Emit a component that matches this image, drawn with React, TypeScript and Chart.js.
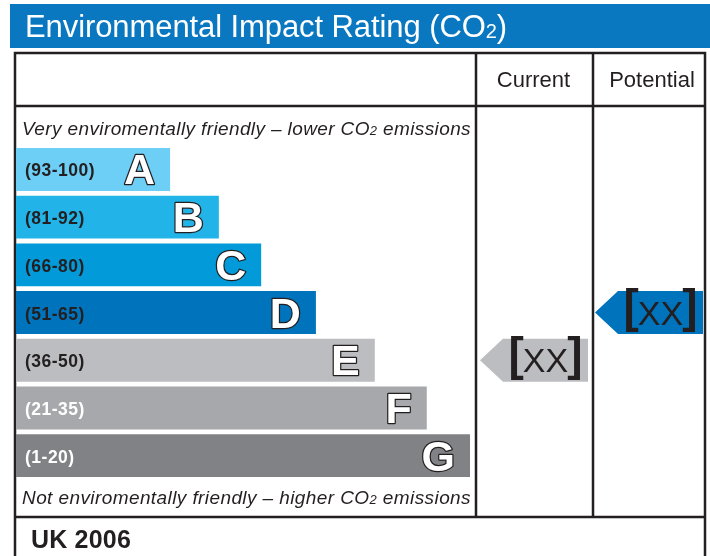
import React, { useEffect, useRef } from "react";
import { Chart, registerables } from "chart.js";

Chart.register(...registerables);

// ---- data ----
const bands = ["A", "B", "C", "D", "E", "F", "G"];
const ranges = ["(93-100)", "(81-92)", "(66-80)", "(51-65)", "(36-50)", "(21-35)", "(1-20)"];
const barLengths = [33.5, 44.1, 53.3, 65.2, 78.0, 89.3, 98.7];
const bandColors = ["#6dcff6", "#22b4e9", "#029ad8", "#0073bd", "#bbbdc0", "#a6a8ab", "#808285"];
const rangeTextColors = ["#231f20", "#231f20", "#231f20", "#231f20", "#231f20", "#ffffff", "#ffffff"];
const currentBand = "E";
const potentialBand = "D";
const currentLabel = "XX";
const potentialLabel = "XX";
const titleMain = "Environmental Impact Rating (CO";
const titleSub = "2";
const titleEnd = ")";
const headerCurrent = "Current";
const headerPotential = "Potential";
const topNote = ["Very enviromentally friendly \u2013 lower CO", "2", " emissions"];
const bottomNote = ["Not enviromentally friendly \u2013 higher CO", "2", " emissions"];
const footer = "UK 2006";

const FONT = '"Liberation Sans", Arial, Helvetica, sans-serif';
const DARK = "#231f20";

type Run = { text: string; font: string; dy?: number };

function measureRuns(ctx: CanvasRenderingContext2D, runs: Run[]) {
  let w = 0;
  let n = 0;
  for (const r of runs) {
    ctx.font = r.font;
    (ctx as any).letterSpacing = "0px";
    w += ctx.measureText(r.text).width;
    n += r.text.length;
  }
  return { w, n };
}

function drawRuns(
  ctx: CanvasRenderingContext2D,
  runs: Run[],
  x: number,
  y: number,
  color: string,
  target?: number
) {
  let spacing = 0;
  if (target) {
    const m = measureRuns(ctx, runs);
    spacing = (target - m.w) / m.n;
  }
  let cx = x;
  ctx.fillStyle = color;
  ctx.textAlign = "left";
  ctx.textBaseline = "alphabetic";
  for (const r of runs) {
    ctx.font = r.font;
    (ctx as any).letterSpacing = spacing + "px";
    ctx.fillText(r.text, cx, y + (r.dy || 0));
    cx += ctx.measureText(r.text).width;
  }
  (ctx as any).letterSpacing = "0px";
}

// layout constants
const TABLE_L = 15;
const TABLE_R = 705;
const TABLE_T = 53;
const HEADER_B = 106;
const BODY_B = 517;
const COL1 = 476;
const COL2 = 593;

function drawArrow(
  ctx: CanvasRenderingContext2D,
  tipX: number,
  rightX: number,
  cy: number,
  h: number,
  color: string,
  label: string
) {
  const head = 23;
  ctx.fillStyle = color;
  ctx.beginPath();
  ctx.moveTo(tipX, cy);
  ctx.lineTo(tipX + head, cy - h / 2);
  ctx.lineTo(rightX, cy - h / 2);
  ctx.lineTo(rightX, cy + h / 2);
  ctx.lineTo(tipX + head, cy + h / 2);
  ctx.closePath();
  ctx.fill();

  const bFont = `bold 46px ${FONT}`;
  const tFont = `34px ${FONT}`;
  ctx.font = bFont;
  const lw = ctx.measureText("[").width;
  const rw = ctx.measureText("]").width;
  ctx.font = tFont;
  const tw = ctx.measureText(label).width;
  const gap = -1;
  const total = lw + tw + rw + gap * 2;
  const center = (tipX + head + rightX) / 2;
  let x = center - total / 2;
  ctx.fillStyle = DARK;
  ctx.textAlign = "left";
  ctx.textBaseline = "alphabetic";
  ctx.font = bFont;
  ctx.fillText("[", x, cy + 9.5);
  x += lw + gap;
  ctx.font = tFont;
  ctx.fillText(label, x, cy + 12);
  x += tw + gap;
  ctx.font = bFont;
  ctx.fillText("]", x, cy + 9.5);
}

const epcPlugin = {
  id: "epc",
  beforeDatasetsDraw(chart: any) {
    const ctx: CanvasRenderingContext2D = chart.ctx;
    ctx.save();
    ctx.fillStyle = "#ffffff";
    ctx.fillRect(0, 0, chart.width, chart.height);
    // title bar
    ctx.fillStyle = "#0a78c1";
    ctx.fillRect(10, 4, 700, 44);
    drawRuns(
      ctx,
      [
        { text: titleMain, font: `31px ${FONT}` },
        { text: titleSub, font: `20px ${FONT}`, dy: 1 },
        { text: titleEnd, font: `31px ${FONT}` },
      ],
      25,
      37,
      "#ffffff",
      482
    );
    // table
    ctx.strokeStyle = DARK;
    ctx.lineWidth = 2.5;
    ctx.beginPath();
    ctx.moveTo(TABLE_L, chart.height + 5);
    ctx.lineTo(TABLE_L, TABLE_T);
    ctx.lineTo(TABLE_R, TABLE_T);
    ctx.lineTo(TABLE_R, chart.height + 5);
    ctx.moveTo(TABLE_L, HEADER_B);
    ctx.lineTo(TABLE_R, HEADER_B);
    ctx.moveTo(TABLE_L, BODY_B);
    ctx.lineTo(TABLE_R, BODY_B);
    ctx.moveTo(COL1, TABLE_T);
    ctx.lineTo(COL1, BODY_B);
    ctx.moveTo(COL2, TABLE_T);
    ctx.lineTo(COL2, BODY_B);
    ctx.stroke();
    // headers
    ctx.fillStyle = DARK;
    ctx.font = `22px ${FONT}`;
    ctx.textAlign = "center";
    ctx.textBaseline = "alphabetic";
    ctx.fillText(headerCurrent, (COL1 + COL2) / 2 - 1, 87);
    ctx.fillText(headerPotential, (COL2 + TABLE_R) / 2 + 3, 87);
    // notes
    const it = `italic 19px ${FONT}`;
    const itSub = `italic 13px ${FONT}`;
    drawRuns(
      ctx,
      [
        { text: topNote[0], font: it },
        { text: topNote[1], font: itSub, dy: 0 },
        { text: topNote[2], font: it },
      ],
      22,
      135,
      DARK,
      449
    );
    drawRuns(
      ctx,
      [
        { text: bottomNote[0], font: it },
        { text: bottomNote[1], font: itSub, dy: 0 },
        { text: bottomNote[2], font: it },
      ],
      22,
      504,
      DARK,
      449
    );
    drawRuns(ctx, [{ text: footer, font: `bold 25px ${FONT}` }], 31, 548, DARK, 100);
    ctx.restore();
  },
  afterDatasetsDraw(chart: any) {
    const ctx: CanvasRenderingContext2D = chart.ctx;
    const meta = chart.getDatasetMeta(0);
    ctx.save();
    meta.data.forEach((bar: any, i: number) => {
      const cy = bar.y;
      // range text
      ctx.fillStyle = rangeTextColors[i];
      ctx.font = `bold 17.5px ${FONT}`;
      (ctx as any).letterSpacing = "0.5px";
      ctx.textAlign = "left";
      ctx.textBaseline = "alphabetic";
      ctx.fillText(ranges[i], 25, cy + 7);
      (ctx as any).letterSpacing = "0px";
      // letter
      ctx.font = `bold 43px ${FONT}`;
      ctx.textAlign = "right";
      ctx.lineJoin = "round";
      ctx.lineWidth = 2.5;
      ctx.strokeStyle = DARK;
      const lx = bar.x - 15;
      ctx.strokeText(bands[i], lx, cy + 15);
      ctx.fillStyle = "#ffffff";
      ctx.fillText(bands[i], lx, cy + 15);
    });
    const ci = bands.indexOf(currentBand);
    const pi = bands.indexOf(potentialBand);
    const cb = meta.data[ci];
    const pb = meta.data[pi];
    drawArrow(ctx, COL1 + 4, COL2 - 5, cb.y, cb.height, "#bbbdc0", currentLabel);
    drawArrow(ctx, COL2 + 2, TABLE_R - 2, pb.y, pb.height, "#0073bd", potentialLabel);
    ctx.restore();
  },
};

export default function App() {
  const ref = useRef<HTMLCanvasElement | null>(null);
  useEffect(() => {
    if (!ref.current) return;
    const chart = new Chart(ref.current, {
      type: "bar",
      data: {
        labels: bands,
        datasets: [
          {
            data: barLengths,
            backgroundColor: bandColors,
            borderWidth: 0,
            barPercentage: 0.9,
            categoryPercentage: 1,
          },
        ],
      },
      options: {
        indexAxis: "y",
        animation: false,
        responsive: false,
        maintainAspectRatio: false,
        events: [],
        layout: { padding: { left: 16, right: 710 - COL1, top: 145.6, bottom: 556 - 479.5 } },
        plugins: { legend: { display: false }, tooltip: { enabled: false }, title: { display: false } },
        scales: {
          x: { display: false, min: 0, max: 100 },
          y: { display: false },
        },
      },
      plugins: [epcPlugin],
    });
    return () => chart.destroy();
  }, []);
  return (
    <div style={{ position: "absolute", left: 0, top: 0, width: 710, height: 556, background: "#fff" }}>
      <canvas ref={ref} width={710} height={556} style={{ display: "block" }} />
    </div>
  );
}
